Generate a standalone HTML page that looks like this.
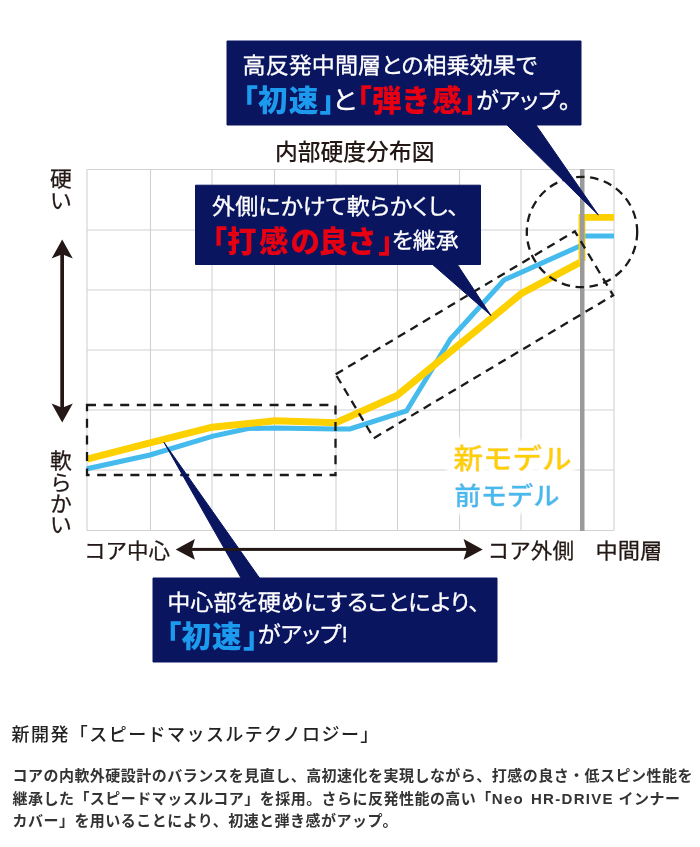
<!DOCTYPE html>
<html lang="ja">
<head>
<meta charset="utf-8">
<title>内部硬度分布図</title>
<style>
html,body{margin:0;padding:0;background:#fff;}
body{width:700px;height:847px;overflow:hidden;position:relative;font-family:"Liberation Sans","Noto Sans CJK JP",sans-serif;color:#222;}
svg{position:absolute;left:0;top:0;display:block;}
svg text{font-family:"Liberation Sans","Noto Sans CJK JP",sans-serif;}
.w{fill:#fff;stroke:#fff;stroke-width:0.3px;font-size:22px;font-feature-settings:"palt";}
.b{font-size:29.5px;font-weight:900;}
.h{position:absolute;left:11.500px;top:721.8px;margin:0;font-size:18px;font-weight:500;letter-spacing:1.44px;line-height:26px;color:#222;white-space:nowrap;}
.en{letter-spacing:1.3px;word-spacing:1.5px;}
.p{position:absolute;left:12.500px;top:765.3px;margin:0;font-size:15px;font-weight:700;letter-spacing:0.47px;line-height:22.2px;color:#333;white-space:nowrap;}
</style>
</head>
<body>
<svg width="700" height="700" viewBox="0 0 700 700">
  <defs>
    <filter id="halo" x="-15%" y="-40%" width="130%" height="180%">
      <feMorphology in="SourceAlpha" operator="dilate" radius="5" result="d"/>
      <feGaussianBlur in="d" stdDeviation="2.500" result="b"/>
      <feFlood flood-color="#fff"/>
      <feComposite in2="b" operator="in" result="g"/>
      <feMerge><feMergeNode in="g"/><feMergeNode in="g"/><feMergeNode in="g"/><feMergeNode in="SourceGraphic"/></feMerge>
    </filter>
  </defs>
  <!-- grid -->
  <g stroke="#d2d2d2" stroke-width="1.1" fill="none">
    <path d="M87 169.500H614M87 230H614M87 290H614M87 350H614M87 410H614M87 470H614M87 530.500H614"/>
    <path d="M87 169.500V530.500M150.500 169.500V530.500M212 169.500V530.500M274.500 169.500V530.500M336 169.500V530.500M397.500 169.500V530.500M459.500 169.500V530.500M521 169.500V530.500M614 169.500V530.500"/>
  </g>
  <!-- data lines -->
  <polyline points="87,468.800 150,455 212,436.300 248,428.500 275,428 336,429 350,429 406.500,411 450.500,339 504,280 580,246" fill="none" stroke="#45baec" stroke-width="5" stroke-linejoin="miter"/>
  <path d="M584 236H614" stroke="#45baec" stroke-width="5" fill="none"/>
  <polyline points="87,459.200 150,442.900 212,427.200 275,420.800 336,422.700 397,395.500 521.500,293.500 580,262.300" fill="none" stroke="#fdd000" stroke-width="7" stroke-linejoin="miter"/>
  <path d="M582 261V217.400H614" stroke="#fdd000" stroke-width="6.800" fill="none"/>
  <!-- gray bar -->
  <rect x="580" y="169" width="4.500" height="362" fill="#9a9a9a"/>
  <!-- dashed shapes -->
  <g fill="none" stroke="#1a1a1a" stroke-width="2.300" stroke-dasharray="9 7.600">
    <rect x="87" y="405" width="248.500" height="70"/>
    <polygon points="335.700,374.300 574.800,231.300 613.200,295.300 373.800,438.200" stroke-dasharray="8.500 6"/>
    <circle cx="582" cy="232" r="55.200" stroke-dasharray="8.500 5.600"/>
  </g>
  <!-- callout boxes -->
  <g fill="#0a1560" stroke="#0a1560" stroke-width="1" stroke-linejoin="round">
    <rect x="227" y="41" width="354" height="84"/>
    <polygon points="507,125 536,125 598.300,215"/>
    <rect x="195.500" y="185.200" width="285" height="79.300"/>
    <polygon points="432,264 457,264 491,315.500"/>
    <rect x="153" y="578" width="344" height="84"/>
    <polygon points="241,578 259.500,578 164,442.400"/>
  </g>
  <!-- callout 1 text -->
  <text class="w" transform="translate(242.600,73.300) scale(1.05,1)">高反発中間層との相乗効果で</text>
  <text class="b" x="228.600 258.100 288.700 319.600" y="111" fill="#1c9bee">「初速」</text>
  <text class="w" style="font-size:25.5px" transform="translate(332.500,109.300) scale(1.05,1)">と</text>
  <text class="b" x="342.600 372 401 432.300 461.300" y="111" fill="#e60012">「弾き感」</text>
  <text class="w" transform="translate(476,107.600) scale(1.05,1)">がアップ。</text>
  <!-- callout 2 text -->
  <text class="w" transform="translate(212.100,214.300) scale(1.05,1)">外側にかけて軟らかくし、</text>
  <text class="b" x="197.700 227.100 258.900 290.500 318.600 347.200 378.200" y="251.500" fill="#e60012">「打感の良さ」</text>
  <text class="w" transform="translate(391.700,247.700) scale(1.04,1)">を継承</text>
  <!-- callout 3 text -->
  <text class="w" transform="translate(167.200,610.200) scale(1.05,1)">中心部を硬めにすることにより、</text>
  <text class="b" x="151.900 181.400 212 242.900" y="646.500" fill="#1c9bee">「初速」</text>
  <text class="w" transform="translate(257.900,642.400) scale(1.05,1)">がアップ!</text>
  <!-- title & axis labels -->
  <g fill="#231815" stroke="#231815" stroke-width="0.250">
    <text x="274.900" y="160.300" font-size="22.800" font-weight="500" stroke="none">内部硬度分布図</text>
    <text font-size="21" transform="translate(50,0) scale(1.04,1)"><tspan x="0" y="186.200">硬</tspan><tspan x="0" y="208.500">い</tspan></text>
    <text font-size="21" transform="translate(50,0) scale(1.04,1)"><tspan x="0" y="468">軟</tspan><tspan x="0" y="490.500">ら</tspan><tspan x="0" y="511.500">か</tspan><tspan x="0" y="532">い</tspan></text>
    <text font-size="21" transform="translate(84,557.800) scale(1.025,1)">コア中心</text>
    <text font-size="21" transform="translate(487.600,557.800) scale(1.03,1)">コア外側</text>
    <text font-size="21" transform="translate(595.600,557.800) scale(1.06,1)">中間層</text>
  </g>
  <!-- arrows -->
  <g fill="#231815" stroke="none">
    <rect x="60.300" y="250" width="3.700" height="162"/>
    <polygon points="62.200,239.400 72.800,258.600 62.200,254.200 51.600,258.600"/>
    <polygon points="62.200,422.500 72.800,403.400 62.200,407.800 51.600,403.400"/>
    <rect x="188" y="547.900" width="284" height="3"/>
    <polygon points="175.700,549.400 194.900,539.100 191.700,549.400 194.900,559.700"/>
    <polygon points="482.700,549.400 463.600,539.100 466.800,549.400 463.600,559.700"/>
  </g>
  <!-- legend -->
  <g font-weight="500" filter="url(#halo)">
    <text transform="translate(453.500,469.400) scale(1.055,1)" font-size="28" fill="#fdd000" stroke="#fdd000" stroke-width="0.500">新モデル</text>
    <text transform="translate(454.400,504.600) scale(1.03,1)" font-size="25.500" fill="#45baec" stroke="#45baec" stroke-width="0.400">前モデル</text>
  </g>
</svg>
<h2 class="h">新開発「スピードマッスルテクノロジー」</h2>
<p class="p">コアの内軟外硬設計のバランスを見直し、高初速化を実現しながら、打感の良さ・低スピン性能を<br>継承した「スピードマッスルコア」を採用。さらに反発性能の高い「<span class="en">Neo HR-DRIVE</span> インナー<br>カバー」を用いることにより、初速と弾き感がアップ。</p>
</body>
</html>
